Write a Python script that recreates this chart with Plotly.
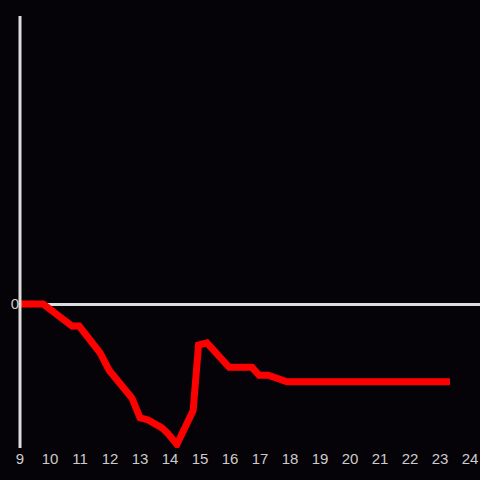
import plotly.graph_objects as go

hours = [9.0, 9.77, 10.73, 10.97, 11.67, 11.97, 12.73, 13.0, 13.27, 13.73, 13.93, 14.23,
         14.77, 14.95, 15.23, 15.97, 16.73, 16.97, 17.27, 17.9, 18.1, 23.33]
values = [0.0, 0.0, -0.153, -0.153, -0.34, -0.46, -0.653, -0.79, -0.805, -0.86, -0.9, -0.975,
          -0.74, -0.285, -0.27, -0.44, -0.44, -0.495, -0.495, -0.54, -0.54, -0.54]
x_ticks = list(range(9, 25))
y_ticks = [0]

fig = go.Figure()
fig.add_trace(go.Scatter(x=hours, y=values, mode="lines",
                         line=dict(color="#ff0000", width=7), hoverinfo="skip"))

fig.update_layout(
    width=480, height=480,
    margin=dict(l=20, r=0, t=16, b=32),
    paper_bgcolor="#050307", plot_bgcolor="#050307",
    showlegend=False,
    font=dict(family="Liberation Sans, Arial, sans-serif", size=15, color="#cccccc"),
)
fig.add_shape(type="line", xref="paper", yref="paper", x0=0, x1=0, y0=0, y1=1,
              line=dict(color="#dddddd", width=3), layer="above")
fig.update_xaxes(range=[9, 24.33], tickvals=x_ticks, ticktext=[str(t) for t in x_ticks],
                 showgrid=False, zeroline=False, showline=False, ticks="", ticklen=0)
fig.update_yaxes(range=[-1, 2], tickvals=y_ticks, ticktext=["0"],
                 showgrid=False, zeroline=True, zerolinecolor="#dddddd", zerolinewidth=3,
                 showline=False, ticks="", ticklen=0)

fig.write_html("out.html", config={"displayModeBar": False},
               post_script="document.body.style.margin='0';document.body.style.background='#050307';")
